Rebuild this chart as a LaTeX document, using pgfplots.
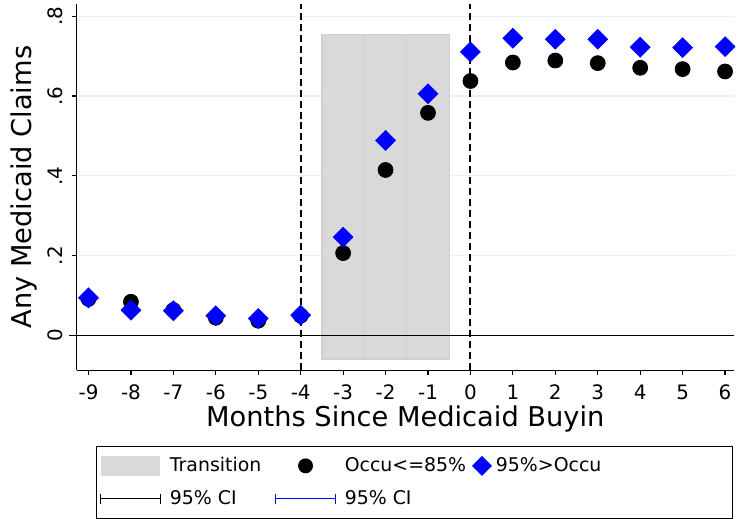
\documentclass[border=0pt]{standalone}
\usepackage{fontspec}
\setmainfont{DejaVu Sans}
\usepackage{pgfplots}
\pgfplotsset{compat=1.18}
\definecolor{graybar}{HTML}{D9D9D9}
\definecolor{grayedge}{HTML}{CFCFCF}
\definecolor{gridc}{HTML}{E8F0F2}
\begin{document}
\begin{tikzpicture}
\begin{axis}[
  name=ax,
  scale only axis,
  width=330.5pt, height=184pt,
  xmin=-9.281, xmax=6.211,
  ymin=-0.0864, ymax=0.83,
  axis x line*=bottom, axis y line*=left,
  axis line style={line width=0.6pt},
  xtick={-9,...,6},
  ytick={0,0.2,0.4,0.6,0.8},
  yticklabels={0,.2,.4,.6,.8},
  tick align=outside,
  major tick length=2.5pt,
  tick style={black, line width=0.6pt},
  ymajorgrids,
  major grid style={gridc, line width=0.6pt},
  /pgf/number format/assume math mode=true,
  ticklabel style={font=\fontsize{10}{12}\selectfont},
  yticklabel style={rotate=90, anchor=south, yshift=1pt},
  xticklabel style={yshift=-1.5pt},
  xlabel={Months Since Medicaid Buyin},
  ylabel={Any Medicaid Claims},
  every axis x label/.style={at={(axis description cs:0.5,0)}, yshift=-24.5pt, anchor=center, font=\fontsize{13.7}{16}\selectfont},
  every axis y label/.style={at={(axis description cs:0,0.5)}, xshift=-26.5pt, rotate=90, anchor=center, font=\fontsize{13.7}{16}\selectfont},
  clip=false,
  legend columns=4,
  legend cell align=left,
  legend style={at={(0.514,-0.2065)}, anchor=north, draw=black, line width=0.5pt,
    font=\fontsize{9.5}{11}\selectfont, inner xsep=2pt, inner ysep=3.5pt,
    row sep=4pt,
    /tikz/column 1/.style={column sep=2.5pt},
    /tikz/column 2/.style={column sep=5pt},
    /tikz/column 3/.style={column sep=2.5pt},
    /tikz/column 4/.style={column sep=1pt},
    /tikz/column 5/.style={column sep=0pt},
    /tikz/column 6/.style={column sep=0pt},
    /tikz/column 7/.style={column sep=0pt},
    /tikz/column 8/.style={column sep=0pt}},
]
% transition bars
\addplot[fill=graybar, draw=grayedge, line width=0.6pt, forget plot] coordinates {(-3.5,-0.0583) (-3.5,0.7535) (-2.5,0.7535) (-2.5,-0.0583)} -- cycle;
\addplot[fill=graybar, draw=grayedge, line width=0.6pt, forget plot] coordinates {(-2.5,-0.0583) (-2.5,0.7535) (-1.5,0.7535) (-1.5,-0.0583)} -- cycle;
\addplot[fill=graybar, draw=grayedge, line width=0.6pt, forget plot] coordinates {(-1.5,-0.0583) (-1.5,0.7535) (-0.5,0.7535) (-0.5,-0.0583)} -- cycle;
% zero line
\addplot[black, line width=0.6pt, forget plot] coordinates {(-9.45,0) (6.211,0)};
% dashed lines
\addplot[black, line width=1pt, dash pattern=on 3.5pt off 2pt, forget plot] coordinates {(-4,-0.0864) (-4,0.83)};
\addplot[black, line width=1pt, dash pattern=on 3.5pt off 2pt, forget plot] coordinates {(0,-0.0864) (0,0.83)};
% black circles
\addplot[only marks, mark=*, mark size=3.75pt, black, forget plot] coordinates {
(-9,0.092) (-8,0.0847) (-7,0.064) (-6,0.0448) (-5,0.0374) (-4,0.050)
(-3,0.2067) (-2,0.4148) (-1,0.5578) (0,0.6375) (1,0.6838) (2,0.6888)
(3,0.6823) (4,0.6706) (5,0.6673) (6,0.6614)};
% blue diamonds
\addplot[only marks, mark=square*, mark size=3.5pt, mark options={rotate=45}, blue, forget plot] coordinates {
(-9,0.0946) (-8,0.0637) (-7,0.0623) (-6,0.0498) (-5,0.0431) (-4,0.0513)
(-3,0.2465) (-2,0.4888) (-1,0.6058) (0,0.7104) (1,0.7445) (2,0.742)
(3,0.742) (4,0.7221) (5,0.7211) (6,0.7236)};
% CI caps
\addplot[draw=none, mark=none, forget plot, error bars/.cd, y dir=both, y explicit,
  error bar style={black, line width=0.5pt}, error mark options={rotate=90, mark size=2.5pt, black, line width=0.5pt}]
  coordinates {(-9,0.093) +- (0,0.009) (-8,0.074) +- (0,0.009) (-7,0.062) +- (0,0.009) (-6,0.047) +- (0,0.008) (-5,0.040) +- (0,0.008)};
% legend
\addlegendimage{legend image code/.code={\fill[graybar, draw=none] (0pt,-5pt) rectangle (30pt,5pt);}}
\addlegendentry{Transition}
\addlegendimage{legend image code/.code={\path[draw=none] (0pt,0pt) -- (30pt,0pt); \fill[black, draw=none] (15pt,0pt) circle (3.75pt);}}
\addlegendentry{Occu<=85\%}
\addlegendimage{legend image code/.code={\fill[blue, draw=none] (5pt,5pt) -- (10pt,0pt) -- (5pt,-5pt) -- (0pt,0pt) -- cycle;}}
\addlegendentry{95\%>Occu}
\addlegendimage{legend image code/.code={\path[draw=none] (0pt,0pt) -- (58pt,0pt);}}
\addlegendentry{}
\addlegendimage{legend image code/.code={\draw[black, line width=0.5pt] (0pt,0pt) -- (30pt,0pt) (0pt,-2.5pt) -- (0pt,2.5pt) (30pt,-2.5pt) -- (30pt,2.5pt);}}
\addlegendentry{95\% CI}
\addlegendimage{legend image code/.code={\draw[blue, line width=0.5pt] (0pt,0pt) -- (30pt,0pt) (0pt,-2.5pt) -- (0pt,2.5pt) (30pt,-2.5pt) -- (30pt,2.5pt);}}
\addlegendentry{95\% CI}
\end{axis}
\path ([xshift=-38.5pt,yshift=2pt]ax.north west) rectangle ([yshift=-73.5pt]ax.south east);
\end{tikzpicture}
\end{document}
